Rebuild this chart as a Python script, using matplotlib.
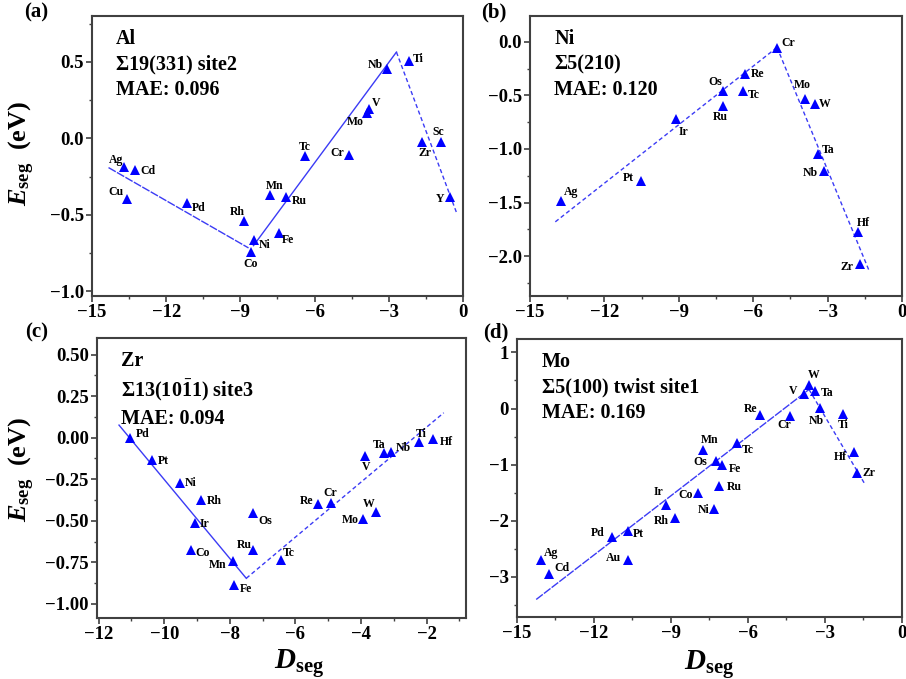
import numpy as np
import matplotlib
matplotlib.use("Agg")
import matplotlib.pyplot as plt
from matplotlib.ticker import MultipleLocator, FuncFormatter

plt.rcParams['font.family'] = ['Liberation Serif', 'DejaVu Serif']
plt.rcParams['font.weight'] = 'bold'
plt.rcParams['mathtext.fontset'] = 'custom'
plt.rcParams['mathtext.rm'] = 'Liberation Serif:bold'
plt.rcParams['mathtext.it'] = 'Liberation Serif:italic:bold'
plt.rcParams['mathtext.bf'] = 'Liberation Serif:bold'

# (a) Al  Σ19(331) site2
al_elems = ['Ag', 'Cd', 'Cu', 'Pd', 'Rh', 'Co', 'Ni', 'Fe', 'Mn', 'Ru', 'Tc', 'Cr',
            'Mo', 'V', 'Nb', 'Ti', 'Zr', 'Sc', 'Y']
al_dseg = [-13.72, -13.26, -13.60, -11.15, -8.84, -8.59, -8.46, -7.45, -7.80, -7.17,
           -6.39, -4.60, -3.90, -3.80, -3.09, -2.17, -1.66, -0.89, -0.52]
al_eseg = [-0.185, -0.209, -0.393, -0.422, -0.543, -0.741, -0.664, -0.618, -0.371,
           -0.382, -0.114, -0.110, 0.163, 0.193, 0.451, 0.503, -0.022, -0.022, -0.380]
al_fit_x = [[-14.33, -8.67], [-8.47, -2.69], [-2.69, -0.27]]
al_fit_y = [[-0.191, -0.716], [-0.701, 0.564], [0.564, -0.481]]

# (b) Ni  Σ5(210)
ni_elems = ['Ag', 'Pt', 'Ir', 'Os', 'Ru', 'Re', 'Tc', 'Cr', 'Mo', 'W', 'Ta', 'Nb', 'Hf', 'Zr']
ni_dseg = [-13.75, -10.52, -9.11, -7.23, -7.23, -6.32, -6.41, -5.04, -3.91, -3.52,
           -3.37, -3.13, -1.78, -1.68]
ni_eseg = [-1.482, -1.295, -0.721, -0.459, -0.602, -0.303, -0.459, -0.059, -0.537,
           -0.577, -1.045, -1.201, -1.772, -2.075]
ni_fit_x = [[-13.98, -5.04], [-5.04, -1.31]]
ni_fit_y = [[-1.679, -0.053], [-0.053, -2.144]]

# (c) Zr  Σ13(10-11) site3
zr_elems = ['Pd', 'Pt', 'Ni', 'Rh', 'Ir', 'Co', 'Mn', 'Fe', 'Os', 'Ru', 'Tc', 'Re', 'Cr',
            'Mo', 'W', 'V', 'Ta', 'Nb', 'Ti', 'Hf']
zr_dseg = [-11.06, -10.37, -9.52, -8.87, -9.07, -9.20, -7.91, -7.87, -7.29, -7.29,
           -6.44, -5.31, -4.91, -3.93, -3.55, -3.87, -3.31, -3.09, -2.24, -1.82]
zr_eseg = [-0.004, -0.134, -0.272, -0.374, -0.514, -0.674, -0.744, -0.884, -0.456,
           -0.678, -0.736, -0.400, -0.394, -0.488, -0.446, -0.108, -0.094, -0.084,
           -0.024, -0.010]
zr_fit_x = [[-11.38, -7.50], [-7.50, -1.48]]
zr_fit_y = [[0.076, -0.846], [-0.846, 0.150]]

# (d) Mo  Σ5(100) twist site1
mo_elems = ['Ag', 'Cd', 'Pd', 'Pt', 'Au', 'Ir', 'Rh', 'Co', 'Ni', 'Mn', 'Os', 'Fe', 'Ru',
            'Tc', 'Re', 'Cr', 'V', 'W', 'Ta', 'Nb', 'Ti', 'Hf', 'Zr']
mo_dseg = [-14.07, -13.75, -11.29, -10.69, -10.68, -9.18, -8.85, -7.93, -7.31, -7.74,
           -7.26, -7.02, -7.11, -6.44, -5.54, -4.36, -3.83, -3.61, -3.40, -3.18, -2.28,
           -1.87, -1.76]
mo_eseg = [-2.705, -2.955, -2.301, -2.182, -2.705, -1.724, -1.962, -1.516, -1.801,
           -0.743, -0.933, -1.011, -1.385, -0.624, -0.119, -0.131, 0.256, 0.422, 0.315,
           0.018, -0.101, -0.779, -1.159]
mo_fit_x = [[-14.25, -3.62], [-3.62, -1.42]]
mo_fit_y = [[-3.407, 0.340], [0.340, -1.367]]

# label offsets in pixels (dx, dy)
al_off = {'Ag': (-8, 7), 'Cd': (13, -1), 'Cu': (-11, 7), 'Pd': (12, -5), 'Rh': (-7, 9),
          'Co': (0, -12), 'Ni': (11, -5), 'Fe': (9, -7), 'Mn': (5, 9), 'Ru': (14, -4),
          'Tc': (0, 9), 'Cr': (-12, 2), 'Mo': (-11, -9), 'V': (7, 6), 'Nb': (-11, 4),
          'Ti': (9, 2), 'Zr': (3, -11), 'Sc': (-3, 10), 'Y': (-10, -2)}
ni_off = {'Ag': (10, 9), 'Pt': (-13, 3), 'Ir': (7, -13), 'Os': (-7, 9), 'Ru': (-2, -11),
          'Re': (12, 0), 'Tc': (11, -4), 'Cr': (11, 5), 'Mo': (-3, 14), 'W': (10, 0),
          'Ta': (10, 4), 'Nb': (-14, -2), 'Hf': (5, 9), 'Zr': (-13, -3)}
zr_off = {'Pd': (13, 4), 'Pt': (11, -1), 'Ni': (11, 0), 'Rh': (13, -1), 'Ir': (10, -1),
          'Co': (12, -3), 'Mn': (-15, -4), 'Fe': (12, -4), 'Os': (12, -8), 'Ru': (-9, 5),
          'Tc': (8, 7), 'Re': (-12, 3), 'Cr': (-1, 10), 'Mo': (-13, -1), 'W': (-7, 8),
          'V': (1, -11), 'Ta': (-5, 8), 'Nb': (12, 4), 'Ti': (2, 8), 'Hf': (14, -3)}
mo_off = {'Ag': (10, 7), 'Cd': (13, 6), 'Pd': (-14, 4), 'Pt': (11, -3), 'Au': (-14, 2),
          'Ir': (-8, 13), 'Rh': (-13, -3), 'Co': (-13, -2), 'Ni': (-11, -1), 'Mn': (6, 10),
          'Os': (-15, -1), 'Fe': (13, -4), 'Ru': (15, -1), 'Tc': (11, -7), 'Re': (-9, 6),
          'Cr': (-6, -9), 'V': (-11, 3), 'W': (4, 10), 'Ta': (12, -2), 'Nb': (-4, -13),
          'Ti': (0, -11), 'Hf': (-14, -5), 'Zr': (12, 0)}

fig = plt.figure(figsize=(9.06, 6.79), dpi=100)

panels = [
    dict(rect=[0.1015, 0.5641, 0.4095, 0.4124], el=al_elems, x=al_dseg, y=al_eseg,
         fx=al_fit_x, fy=al_fit_y, ls=[(0, (6, 1)), '-', (0, (3, 2))], off=al_off,
         xlim=(-15, 0), ylim=(-1.03, 0.8), xmaj=3, ymaj=0.5,
         text='Al\nΣ19(331) site2\nMAE: 0.096', letter='(a)', lpos=(36, 12),
         ylab=(-0.19, 0.51), xlab=None, ydec=1),
    dict(rect=[0.585, 0.5641, 0.4106, 0.4124], el=ni_elems, x=ni_dseg, y=ni_eseg,
         fx=ni_fit_x, fy=ni_fit_y, ls=[(0, (3, 2)), (0, (3, 2))], off=ni_off,
         xlim=(-15, 0), ylim=(-2.37, 0.24), xmaj=3, ymaj=0.5,
         text='Ni\nΣ5(210)\nMAE: 0.120', letter='(b)', lpos=(494, 12),
         ylab=None, xlab=None, ydec=1),
    dict(rect=[0.1071, 0.0898, 0.4073, 0.4124], el=zr_elems, x=zr_dseg, y=zr_eseg,
         fx=zr_fit_x, fy=zr_fit_y, ls=['-', (0, (3, 2))], off=zr_off,
         xlim=(-12.05, -0.8), ylim=(-1.085, 0.6), xmaj=2, ymaj=0.25,
         text='Zr\nΣ13(10$\\mathrm{\\bar{1}}$1) site3\nMAE: 0.094', letter='(c)',
         lpos=(37, 332), ylab=(-0.203, 0.53), xlab=(0.547, -0.105), ydec=2),
    dict(rect=[0.5706, 0.0913, 0.4249, 0.4094], el=mo_elems, x=mo_dseg, y=mo_eseg,
         fx=mo_fit_x, fy=mo_fit_y, ls=[(0, (6, 1)), (0, (3, 2))], off=mo_off,
         xlim=(-15, 0), ylim=(-3.72, 1.24), xmaj=3, ymaj=1,
         text='Mo\nΣ5(100) twist site1\nMAE: 0.169', letter='(d)', lpos=(496, 332),
         ylab=None, xlab=(0.50, -0.11), ydec=0),
]


def minus_fmt(dec):
    def f(v, pos):
        s = f'{v:.{dec}f}'
        if abs(v) < 1e-9:
            s = f'{0:.{dec}f}'
        return s.replace('-', '\u2212')
    return FuncFormatter(f)


for p in panels:
    ax = fig.add_axes(p['rect'])
    for fx, fy, ls in zip(p['fx'], p['fy'], p['ls']):
        ax.plot(fx, fy, color='#3b3bf5', lw=1.0, linestyle=ls, zorder=2)
    ax.plot(p['x'], p['y'], linestyle='none', marker='^', ms=6.5, color='#0000ff',
            markeredgewidth=0, zorder=3)
    for name, xv, yv in zip(p['el'], p['x'], p['y']):
        dx, dy = p['off'][name]
        ax.annotate(name, (xv, yv), xytext=(dx, dy), textcoords='offset pixels',
                    ha='center', va='center', fontsize=8.5, fontweight='bold')
    ax.set_xlim(*p['xlim'])
    ax.set_ylim(*p['ylim'])
    ax.xaxis.set_major_locator(MultipleLocator(p['xmaj']))
    ax.xaxis.set_minor_locator(MultipleLocator(p['xmaj'] / 2))
    ax.yaxis.set_major_locator(MultipleLocator(p['ymaj']))
    ax.yaxis.set_minor_locator(MultipleLocator(p['ymaj'] / 2))
    ax.xaxis.set_major_formatter(minus_fmt(0))
    ax.yaxis.set_major_formatter(minus_fmt(p['ydec']))
    ax.tick_params(which='major', direction='out', length=4, width=1.2,
                   labelsize=13.5, color='#404040', pad=2)
    ax.tick_params(which='minor', direction='out', length=2, width=1.0, color='#404040')
    for lab in ax.get_xticklabels() + ax.get_yticklabels():
        lab.set_fontweight('bold')
    for sp in ax.spines.values():
        sp.set_linewidth(1.5)
        sp.set_color('#404040')
    ax.text(0.065, 0.955, p['text'], transform=ax.transAxes, ha='left', va='top',
            fontsize=14.5, fontweight='bold', linespacing=1.38)
    if p['ylab']:
        ax.set_ylabel(r'$\mathit{E}_{\mathrm{seg}}$  (eV)', fontsize=19, fontweight='bold',
                      va='center')
        ax.yaxis.set_label_coords(*p['ylab'])
    if p['xlab']:
        ax.set_xlabel(r'$\mathit{D}_{\mathrm{seg}}$', fontsize=21, fontweight='bold')
        ax.xaxis.set_label_coords(*p['xlab'])
    fig.text(p['lpos'][0] / 906, 1 - p['lpos'][1] / 679, p['letter'], ha='center',
             va='center', fontsize=15, fontweight='bold')

fig.savefig('out.png', dpi=100)
